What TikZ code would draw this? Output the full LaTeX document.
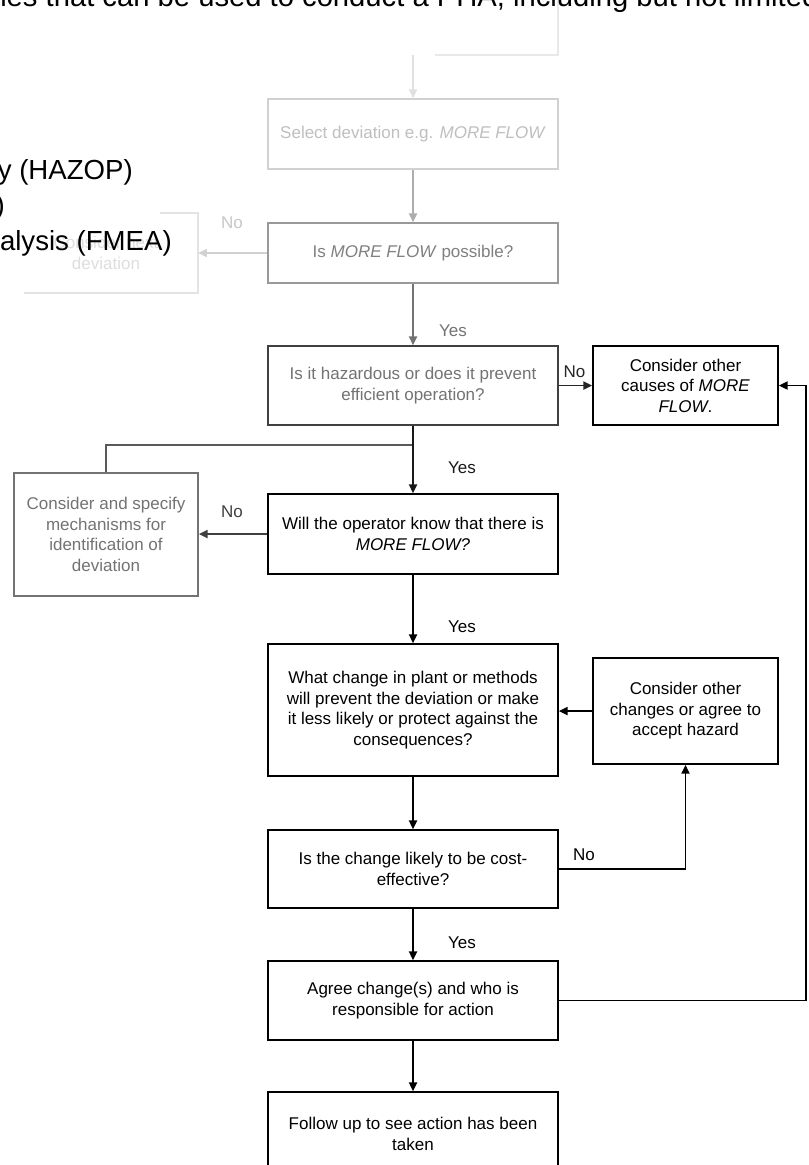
\documentclass[tikz,border=0pt]{standalone}
\usepackage{fontspec}
\setmainfont{Liberation Sans}
\usetikzlibrary{arrows.meta}
\begin{document}
\begin{tikzpicture}[x=0.75pt,y=-0.75pt,
  fc/.style={font=\fontsize{12.75pt}{15.4pt}\selectfont, align=center, inner sep=0pt, rectangle},
  bx/.style={fc, draw, line width=1.3pt},
  mainbox/.style={bx, minimum width=217.5pt},
  sidebox/.style={bx, minimum width=138.75pt},
  arr/.style={line width=1.3pt, -{Triangle[length=6.5pt,width=6pt]}},
  ln/.style={line width=1.3pt},
  lbl/.style={font=\fontsize{12.75pt}{15.4pt}\selectfont, inner sep=0pt},
  slide/.style={font=\fontsize{20.7pt}{26pt}\selectfont, inner sep=0pt, text=black}
]
\useasboundingbox (0,0) rectangle (808,1165);
\clip (0,0) rectangle (808,1165);
\fill[white] (0,0) rectangle (808,1165);

% faded upper part of the flowchart
\node[fc, minimum width=217.5pt, minimum height=52.5pt] (top) at (413,20) {};
\draw[ln, black!9] (top.north east) -- (top.south east) -- ++(-123,0);
\node[mainbox, draw=black!18, text=black!25, minimum height=52.5pt] (sel) at (413,134) {Select deviation e.g. \textit{MORE FLOW}};
\draw[arr, black!12] (top.south) -- (sel.north);
\node[mainbox, draw=black!40, text=black!50, minimum height=45pt] (pos) at (413,253) {Is \textit{MORE FLOW} possible?};
\draw[arr, black!32] (sel) -- (pos);
\node[fc, text=black!13, minimum width=138pt, minimum height=60pt] (nxt) at (106,253) {Consider next\\deviation};
\draw[ln, black!11] ([xshift=110pt]nxt.north west) -- (nxt.north east) -- (nxt.south east) -- ([xshift=8pt]nxt.south west);
\draw[arr, black!18] (pos.west) -- (nxt.east);
\node[lbl, text=black!22] (no1) at (232,223) {No};

\node[mainbox, draw=black!75, text=black!55, minimum height=59.25pt] (haz) at (413,385.5) {Is it hazardous or does it prevent\\efficient operation?};
\draw[arr, black!55] (pos) -- (haz);
\node[lbl, text=black!55] (yes1) at (453,331) {Yes};
\node[sidebox, minimum height=59.25pt] (cau) at (685.5,385.5) {Consider other\\causes of \textit{MORE}\\\textit{FLOW}.};
\draw[arr, black!85] (haz.east) -- (cau.west);
\node[lbl, text=black!85] (no2) at (574.5,372) {No};

\node[bx, draw=black!55, text=black!55, minimum width=138pt, minimum height=92.25pt] (lft) at (106,534.5) {Consider and specify\\mechanisms for\\identification of\\deviation};
\coordinate (br) at (413,445);
\draw[ln, black!65] (br) -| (lft.north);
\node[mainbox, minimum height=60pt] (wil) at (413,534) {Will the operator know that there is\\\textit{MORE FLOW?}};
\draw[arr, black!90] (haz) -- (wil);
\node[lbl, text=black!90] (yes2) at (462,468) {Yes};
\draw[arr, black!75] (wil.west) -- (wil.west -| lft.east);
\node[lbl, text=black!75] (no3) at (232,512) {No};

\node[mainbox, minimum height=99pt] (wht) at (413,710) {What change in plant or methods\\will prevent the deviation or make\\it less likely or protect against the\\consequences?};
\draw[arr] (wil) -- (wht);
\node[lbl] (yes3) at (462,627) {Yes};
\node[sidebox, minimum height=79.5pt] (chg) at (685.5,711) {Consider other\\changes or agree to\\accept hazard};
\draw[arr] (chg.west) -- (chg.west -| wht.east);

\node[mainbox, minimum height=58.5pt] (cst) at (413,869) {Is the change likely to be cost-\\effective?};
\draw[arr] (wht) -- (cst);
\draw[arr] (cst.east) -| (chg.south);
\node[lbl] (no4) at (584,855) {No};

\node[mainbox, minimum height=59.25pt] (agr) at (413,1000.5) {Agree change(s) and who is\\responsible for action};
\draw[arr] (cst) -- (agr);
\node[lbl] (yes4) at (462,943) {Yes};
\coordinate (rt) at (806,1001);
\draw[arr] (agr.east) -- (agr.east -| rt) |- (cau.east);

\node[mainbox, minimum height=63pt] (fol) at (413,1134) {Follow up to see action has been\\taken};
\draw[arr] (agr) -- (fol);

% slide text on top
\node[anchor=base west, font=\fontsize{21.9pt}{26pt}\selectfont, inner sep=0pt] (title) at (0,6) {ies that can be used to conduct a PHA, including but not limited};
\node[slide, anchor=base east] (b1) at (133,179) {y (HAZOP)};
\node[slide, anchor=base east] (b2) at (5,214.5) {)};
\node[slide, anchor=base east] (b3) at (172,250) {alysis (FMEA)};
\end{tikzpicture}
\end{document}
